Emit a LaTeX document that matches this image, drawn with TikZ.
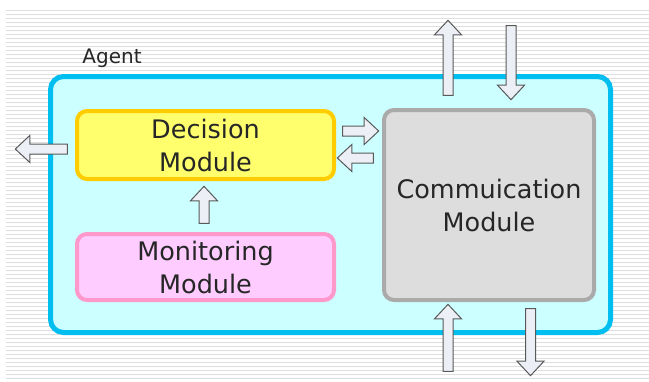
\documentclass[tikz,border=0pt]{standalone}
\usepackage{fontspec}
\setmainfont{DejaVu Sans}
\usetikzlibrary{shapes.arrows}

\definecolor{agentline}{RGB}{0,190,240}
\definecolor{agentfill}{RGB}{204,255,255}
\definecolor{decline}{RGB}{255,204,0}
\definecolor{decfill}{RGB}{255,255,110}
\definecolor{monline}{RGB}{255,153,204}
\definecolor{monfill}{RGB}{255,204,255}
\definecolor{comline}{RGB}{170,170,170}
\definecolor{comfill}{RGB}{221,221,221}
\definecolor{arrowfill}{RGB}{236,239,245}
\definecolor{stripe}{RGB}{222,222,222}

\tikzset{
  module/.style={rounded corners=10, line width=4, inner sep=0, align=center,
    font=\fontsize{25.5}{33}\selectfont, text=black!85},
  flow/.style={single arrow, draw=black!65, fill=arrowfill, line width=1,
    inner sep=4.5, single arrow head extend=8.5, single arrow tip angle=86},
  stripe line/.style={stripe, line width=1}
}

\begin{document}
\begin{tikzpicture}[x=1pt, y=-1pt]
      \useasboundingbox[fill=white] (0,0) rectangle (649,381);
      % striped backdrop
      \foreach \y in {10,14,...,378}
        \draw[stripe line] (6,\y) -- (649,\y);

      \node[draw=agentline, fill=agentfill, line width=5, rounded corners=13, minimum width=560, minimum height=256] (agent) at (330.5,204.5) {};
      \node[font=\fontsize{20}{24}\selectfont, text=black!85] (agentlabel) at (112,58) {Agent};

      \node[module, draw=decline, fill=decfill, minimum width=257, minimum height=68] (decision) at (205.5,145) {Decision\\Module};
      \node[module, draw=monline, fill=monfill, minimum width=257, minimum height=66] (monitor) at (205.5,267) {Monitoring\\Module};
      \node[module, draw=comline, fill=comfill, minimum width=210, minimum height=190] (comm) at (489,205) {Commuication\\Module};

      \node[flow, minimum height=52, shape border rotate=180] (out) at (44,149) {};
      \node[flow, minimum height=36] (tocomm) at (358,131) {};
      \node[flow, minimum height=36, shape border rotate=180] (fromcomm) at (358,158) {};
      \node[flow, minimum height=37, shape border rotate=90] (report) at (204,207.5) {};

      \node[flow, minimum height=75, shape border rotate=90] (sendup) at (448,60.5) {};
      \node[flow, minimum height=74, shape border rotate=270] (recvdown) at (511,60) {};
      \node[flow, minimum height=67, shape border rotate=90] (recvup) at (448,340.5) {};
      \node[flow, minimum height=67, shape border rotate=270] (senddown) at (530.5,339.5) {};
    \end{tikzpicture}
\end{document}
